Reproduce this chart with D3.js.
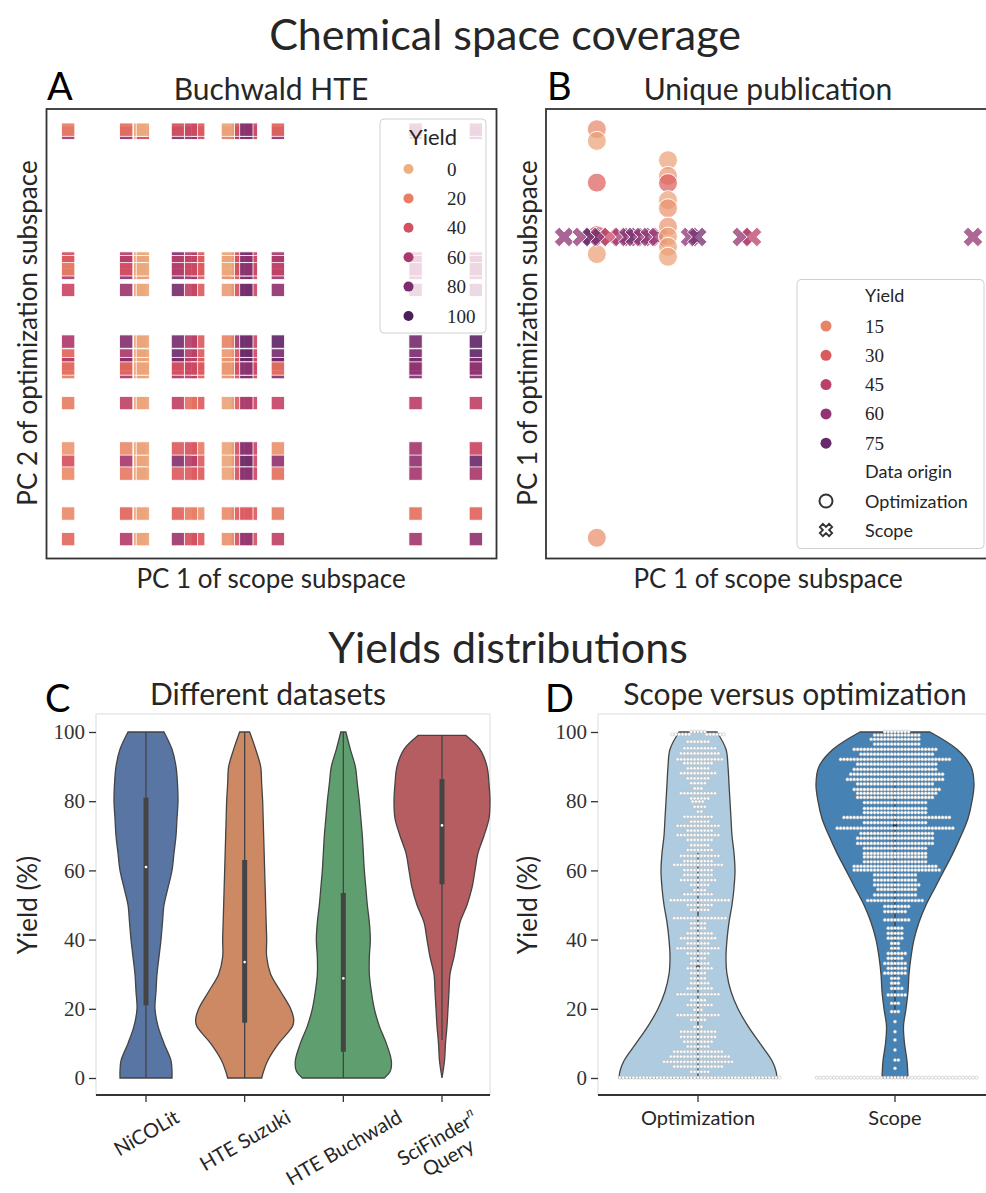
<!DOCTYPE html>
<html>
<head>
<meta charset="utf-8">
<script src="https://cdn.jsdelivr.net/npm/d3@7"></script>
<style>
  body { margin: 0; background: #fff; }
  text { font-family: Lato, "Open Sans", sans-serif; fill: #262626; }
  .num { font-family: "Liberation Serif", serif; }
</style>
</head>
<body>
<svg id="fig" width="986" height="1193"></svg>
<script>
// ---------- Panel A: Buchwald HTE (PC positions are arbitrary 0-100 units) ----------
var aScopePC = [4.7, 20.7, 21.3, 17.6, 33.6, 29.1, 32.0, 42.4, 45.3, 40.2, 44.3, 51.3, 81.9, 95.3];
var aOptPC = [94.7, 95.4, 63.5, 66.7, 65.9, 64.3, 59.7, 41.4, 45.1, 43.2, 42.2, 48.2, 34.5, 21.6, 24.4, 18.8, 9.9, 4.2];
var aYield = [
    [60, 5, 40, 70, 45, 75, 70, 65, 45, 20, 80, 70, 65, 70],
    [20, 5, 3, 25, 35, 40, 45, 40, 45, 5, 75, 30, 60, 60],
    [55, 10, 8, 70, 35, 75, 65, 40, 45, 15, 80, 65, 65, 65],
    [40, 5, 3, 55, 35, 75, 55, 40, 45, 5, 80, 60, 60, 60],
    [35, 5, 5, 55, 35, 55, 50, 40, 45, 5, 75, 60, 60, 60],
    [20, 5, 3, 40, 35, 55, 45, 40, 45, 3, 75, 50, 60, 60],
    [45, 5, 3, 65, 35, 80, 50, 40, 45, 8, 85, 70, 65, 70],
    [20, 5, 5, 60, 35, 60, 55, 40, 45, 12, 80, 75, 75, 75],
    [30, 5, 5, 60, 35, 85, 55, 40, 45, 10, 90, 80, 80, 90],
    [55, 5, 5, 75, 35, 80, 55, 40, 45, 12, 90, 85, 80, 80],
    [25, 5, 5, 28, 35, 38, 45, 40, 45, 10, 75, 25, 70, 70],
    [58, 5, 5, 75, 35, 80, 55, 65, 45, 18, 85, 90, 80, 90],
    [20, 5, 5, 50, 35, 50, 25, 35, 45, 5, 60, 48, 52, 50],
    [40, 5, 5, 60, 35, 75, 55, 40, 45, 5, 85, 70, 70, 85],
    [10, 5, 5, 15, 20, 35, 38, 40, 45, 5, 75, 12, 62, 45],
    [15, 5, 5, 22, 35, 35, 35, 40, 45, 5, 75, 25, 62, 60],
    [15, 5, 5, 30, 12, 30, 20, 35, 35, 15, 35, 20, 25, 30],
    [28, 5, 5, 55, 35, 65, 40, 40, 40, 12, 70, 50, 62, 70]
];
var aLegendTicks = [0, 20, 40, 60, 80, 100];

// ---------- Panel B: unique publication ----------
var bOptPC1 = [11.5, 11.5, 11.5, 11.5, 11.5, 11.5, 27.6, 27.6, 27.6, 27.6, 27.6, 27.6, 27.6, 27.6, 27.6];
var bOptPC2 = [71.9, 95.5, 92.9, 83.6, 67.7, 4.5, 88.6, 85.1, 83.5, 79.7, 77.9, 73.8, 71.6, 69.3, 67.1];
var bOptYield = [30, 14, 5, 28, 6, 12, 5, 8, 28, 5, 10, 9, 5, 6, 5];
var bScopePC1 = [4.1, 8.1, 10.4, 12.2, 14.5, 17.0, 18.6, 20.1, 21.9, 23.5, 25.3, 32.6, 34.2, 44.3, 46.6, 96.6];
var bScopePC2 = [71.5, 71.5, 71.5, 71.5, 71.5, 71.5, 71.5, 71.5, 71.5, 71.5, 71.5, 71.5, 71.5, 71.5, 71.5, 71.5];
var bScopeYield = [62, 60, 78, 65, 40, 55, 65, 70, 60, 62, 55, 62, 70, 60, 45, 60];
var bLegendTicks = [15, 30, 45, 60, 75];

// ---------- Panel C: yield distributions per dataset ([yield, density]) ----------
var cDatasets = ['NiCOLit', 'HTE Suzuki', 'HTE Buchwald', 'SciFinder'];
var cColors = ['#5875a4', '#cc8963', '#5f9e6e', '#b55d60'];
var densNicolit = [[0, 26], [2, 26], [5, 25], [10, 18], [15, 12], [20, 9], [25, 10], [30, 11], [35, 13], [40, 15], [45, 16.5], [50, 18], [55, 22], [60, 26], [65, 28], [70, 30], [75, 31], [80, 32], [85, 31.5], [90, 30], [95, 26], [100, 18]];
var densSuzuki = [[0, 17], [2, 19], [5, 23], [10, 34], [15, 48], [17, 49], [20, 46], [25, 36], [30, 26], [35, 22], [40, 22], [45, 21.5], [50, 21], [55, 20.5], [60, 20], [65, 19.5], [70, 19], [75, 18.5], [80, 18], [85, 17], [90, 16], [95, 11], [100, 5]];
var densBuchwald = [[0, 41], [2, 47], [5, 48], [10, 43], [15, 36], [20, 31], [25, 28], [30, 26], [35, 26], [40, 27], [45, 26], [50, 24], [55, 22.5], [60, 21], [65, 20], [70, 19], [75, 17.5], [80, 16], [85, 14], [90, 12], [95, 7], [100, 2.5]];
var densSciFinder = [[0, 0], [5, 2.5], [10, 3.5], [15, 5], [20, 6], [25, 7], [30, 8], [35, 12], [40, 15], [45, 18], [50, 25], [55, 30], [60, 33], [65, 36], [70, 42], [75, 47], [80, 48], [85, 47], [90, 45], [95, 38], [99, 24]];
var cLow = [0, 0, 0, 11];
var cQ1 = [21, 16, 7.6, 56];
var cMedian = [61, 33.5, 28.8, 73];
var cQ3 = [81, 63, 53.5, 86.4];
var cHigh = [100, 100, 100, 99];

// ---------- Panel D: scope vs optimization ----------
var dGroups = ['Optimization', 'Scope'];
var dColors = ['#afcbdf', '#4682b4'];
var densOpt = [[0, 79], [2, 78], [5, 74], [10, 62], [15, 50], [20, 40], [25, 33], [30, 29], [35, 28], [40, 29], [45, 31], [50, 34], [55, 36], [60, 37], [65, 36], [70, 34], [75, 33], [80, 32], [85, 31], [90, 30], [95, 28], [100, 19]];
var densScope = [[0, 13], [5, 12], [10, 9.5], [15, 8.5], [20, 11], [25, 13], [30, 14], [35, 16], [40, 19], [45, 24], [50, 31], [55, 40], [60, 49], [65, 58], [70, 66], [75, 73], [80, 77], [85, 79], [90, 76], [95, 62], [100, 35]];
var dLow = [0, 19];
var dMedian = [32, 73];
var dHigh = [65, 87];
// swarm rows: [yield, number of reactions]
var swarmOpt = [[100.1, 5], [99.3, 12], [97.2, 7], [95.3, 10], [93.8, 12], [92.1, 14], [91.0, 9], [89.5, 7], [88.1, 11], [86.6, 7], [85.2, 5], [83.7, 3], [82.3, 11], [80.8, 6], [79.9, 4], [78.4, 4], [77.0, 2], [75.5, 9], [74.1, 6], [72.9, 13], [71.5, 8], [70.2, 13], [68.8, 8], [67.3, 6], [65.9, 8], [64.2, 12], [62.7, 9], [61.6, 15], [60.1, 9], [58.7, 9], [57.2, 11], [55.8, 6], [54.3, 4], [53.1, 9], [51.4, 18], [50.0, 8], [48.6, 6], [46.2, 16], [44.7, 5], [43.3, 5], [41.8, 8], [40.4, 11], [38.9, 7], [37.5, 13], [36.0, 7], [34.6, 5], [33.1, 6], [31.7, 8], [30.3, 5], [28.8, 5], [27.4, 6], [25.9, 8], [24.2, 13], [22.5, 5], [21.1, 8], [19.7, 3], [18.2, 13], [16.8, 5], [14.8, 3], [13.4, 11], [11.9, 11], [10.5, 9], [9.1, 7], [7.6, 15], [6.2, 18], [4.7, 21], [3.3, 15], [1.8, 6], [0.1, 48]];
var swarmScope = [[100.1, 8], [99.1, 14], [97.9, 15], [96.5, 14], [95.0, 25], [93.6, 22], [92.1, 33], [90.7, 24], [89.2, 25], [87.8, 28], [86.3, 29], [85.0, 23], [83.4, 26], [82.3, 24], [81.1, 23], [79.6, 19], [77.9, 19], [76.7, 19], [75.3, 32], [73.8, 19], [72.2, 35], [70.7, 22], [69.3, 23], [67.8, 23], [66.4, 19], [64.9, 19], [63.9, 19], [62.5, 19], [61.2, 25], [60.1, 26], [58.7, 13], [57.2, 13], [55.8, 14], [54.5, 12], [52.9, 13], [51.3, 17], [49.6, 8], [48.1, 7], [45.7, 8], [43.3, 5], [41.8, 5], [40.4, 5], [38.9, 3], [37.5, 3], [36.0, 6], [34.6, 5], [33.1, 7], [31.7, 6], [30.3, 7], [28.8, 3], [27.4, 3], [25.9, 4], [24.0, 6], [21.6, 3], [19.2, 3], [16.3, 1], [13.4, 1], [11.0, 1], [8.1, 1], [5.2, 2], [2.8, 1], [0.1, 48]];
var yieldTicks = [0, 20, 40, 60, 80, 100];

var svg = d3.select('#fig');

var flare = d3.piecewise(d3.interpolateRgb, ['#edb081', '#e98d6b', '#e3685c', '#d14a61', '#b13c6c', '#8f3371', '#6c2b6d', '#4a1d5b']);
var colorA = d3.scaleSequential(flare).domain([0, 100]);
var colorB = d3.scaleSequential(flare).domain([0, 85]);

/**
 * Add a text element.
 */
function label(x, y, s, size, anchor, cls) {
    return svg.append('text')
        .attr('x', x).attr('y', y)
        .attr('font-size', size)
        .attr('text-anchor', anchor || 'start')
        .attr('class', cls || null)
        .text(s);
}

function vlabel(x, y, s, size) {
    return svg.append('text')
        .attr('transform', 'translate(' + x + ',' + y + ') rotate(-90)')
        .attr('font-size', size)
        .attr('text-anchor', 'middle')
        .text(s);
}

// Figure titles
label(505, 50, 'Chemical space coverage', 43, 'middle');
label(508, 663, 'Yields distributions', 43, 'middle');

// ---------- Panel A ----------
var xA = d3.scaleLinear().domain([0, 100]).range([47, 497]);
var yA = d3.scaleLinear().domain([0, 100]).range([558, 109]);
var gA = svg.append('g');
var side = 13.3;
aOptPC.forEach(function(pc2, r) {
    aScopePC.forEach(function(pc1, c) {
        gA.append('rect')
            .attr('x', xA(pc1) - side / 2).attr('y', yA(pc2) - side / 2)
            .attr('width', side).attr('height', side)
            .attr('fill', colorA(aYield[r][c]))
            .attr('fill-opacity', 0.92)
            .attr('stroke', '#fff').attr('stroke-width', 0.8);
    });
});
svg.append('rect').attr('x', 46.5).attr('y', 109).attr('width', 450).attr('height', 449.5)
    .attr('fill', 'none').attr('stroke', '#333').attr('stroke-width', 1.8);

// legend A
svg.append('rect').attr('x', 380).attr('y', 119).attr('width', 106).attr('height', 214).attr('rx', 4)
    .attr('fill', '#fff').attr('fill-opacity', 0.8).attr('stroke', '#d0d0d0').attr('stroke-width', 1);
label(433, 145, 'Yield', 22, 'middle');
aLegendTicks.forEach(function(t, i) {
    var cy = 169 + i * 29.4;
    svg.append('circle').attr('cx', 408.5).attr('cy', cy).attr('r', 5).attr('fill', colorA(t));
    label(447, cy + 6.5, t, 19, 'start', 'num');
});

label(47, 100, 'A', 38).style('fill', '#000');
label(271, 100, 'Buchwald HTE', 30, 'middle');
label(271, 588, 'PC 1 of scope subspace', 26, 'middle');
vlabel(37, 333, 'PC 2 of optimization subspace', 26);

// ---------- Panel B ----------
var xB = d3.scaleLinear().domain([0, 100]).range([546, 988]);
var yB = d3.scaleLinear().domain([0, 100]).range([558, 109]);
var gB = svg.append('g');
var xSym = d3.symbol(d3.symbolCross, 240);

function drawOpt(filter) {
    bOptPC1.forEach(function(pc1, i) {
        if (!filter(pc1)) return;
        gB.append('circle').attr('cx', xB(pc1)).attr('cy', yB(bOptPC2[i])).attr('r', 9.5)
            .attr('fill', colorB(bOptYield[i])).attr('fill-opacity', 0.72)
            .attr('stroke', '#fff').attr('stroke-width', 1);
    });
}
drawOpt(function(p) { return p < 20; });
bScopePC1.forEach(function(pc1, i) {
    gB.append('path').attr('d', xSym())
        .attr('transform', 'translate(' + xB(pc1) + ',' + yB(bScopePC2[i]) + ') rotate(45)')
        .attr('fill', colorB(bScopeYield[i])).attr('fill-opacity', 0.75)
        .attr('stroke', '#fff').attr('stroke-width', 0.8);
});
drawOpt(function(p) { return p >= 20; });

svg.append('rect').attr('x', 546).attr('y', 109).attr('width', 442).attr('height', 449.5)
    .attr('fill', 'none').attr('stroke', '#333').attr('stroke-width', 1.8);

// legend B
svg.append('rect').attr('x', 797).attr('y', 279.5).attr('width', 187).attr('height', 269).attr('rx', 4)
    .attr('fill', '#fff').attr('fill-opacity', 0.8).attr('stroke', '#d0d0d0').attr('stroke-width', 1);
label(865, 302, 'Yield', 18);
bLegendTicks.forEach(function(t, i) {
    var cy = 326 + i * 29.3;
    svg.append('circle').attr('cx', 826).attr('cy', cy).attr('r', 5.5).attr('fill', colorB(t));
    label(865, cy + 6.5, t, 19, 'start', 'num');
});
label(865, 478, 'Data origin', 18);
svg.append('circle').attr('cx', 826).attr('cy', 501).attr('r', 6.5)
    .attr('fill', 'none').attr('stroke', '#333').attr('stroke-width', 2);
label(865, 507.5, 'Optimization', 18);
svg.append('path').attr('d', d3.symbol(d3.symbolCross, 95)())
    .attr('transform', 'translate(826,530) rotate(45)')
    .attr('fill', 'none').attr('stroke', '#333').attr('stroke-width', 1.8);
label(865, 536.5, 'Scope', 18);

label(547, 100, 'B', 38).style('fill', '#000');
label(768, 100, 'Unique publication', 30, 'middle');
label(768, 588, 'PC 1 of scope subspace', 26, 'middle');
vlabel(537, 333, 'PC 1 of optimization subspace', 26);

// ---------- shared helpers for violins ----------
var yV = d3.scaleLinear().domain([0, 100]).range([1078, 732]);

function violin(g, pts, cx, fill) {
    var area = d3.area().curve(d3.curveCatmullRom)
        .y(function(d) { return yV(d[0]); })
        .x0(function(d) { return cx - d[1]; })
        .x1(function(d) { return cx + d[1]; });
    g.append('path').attr('d', area(pts))
        .attr('fill', fill).attr('stroke', '#444').attr('stroke-width', 1.3);
}

function yAxis(x) {
    var ax = svg.append('g').attr('transform', 'translate(' + x + ',0)')
        .call(d3.axisLeft(yV).tickValues(yieldTicks).tickSize(7).tickPadding(4));
    ax.select('.domain').remove();
    ax.selectAll('line').attr('stroke', '#333').attr('stroke-width', 1.3);
    ax.selectAll('text').attr('class', 'num').attr('font-size', 21).style('fill', '#333');
    return ax;
}

// ---------- Panel C ----------
var xC = d3.scalePoint().domain(cDatasets).range([146, 442]);
svg.append('rect').attr('x', 96).attr('y', 714).attr('width', 394).attr('height', 381)
    .attr('fill', 'none').attr('stroke', '#e2e2e2').attr('stroke-width', 1.2);
var gC = svg.append('g');
var cDens = [densNicolit, densSuzuki, densBuchwald, densSciFinder];
cDatasets.forEach(function(name, i) {
    var cx = xC(name);
    violin(gC, cDens[i], cx, cColors[i]);
    gC.append('line').attr('x1', cx).attr('x2', cx).attr('y1', yV(cLow[i])).attr('y2', yV(cHigh[i]))
        .attr('stroke', '#444').attr('stroke-width', 1.3);
    gC.append('line').attr('x1', cx).attr('x2', cx).attr('y1', yV(cQ1[i])).attr('y2', yV(cQ3[i]))
        .attr('stroke', '#444').attr('stroke-width', 5);
    gC.append('circle').attr('cx', cx).attr('cy', yV(cMedian[i])).attr('r', 1.3).attr('fill', '#fff');
});
yAxis(96);
svg.append('line').attr('x1', 96).attr('x2', 490).attr('y1', 1095).attr('y2', 1095)
    .attr('stroke', '#333').attr('stroke-width', 1.8);
cDatasets.forEach(function(name) {
    svg.append('line').attr('x1', xC(name)).attr('x2', xC(name)).attr('y1', 1095).attr('y2', 1102)
        .attr('stroke', '#333').attr('stroke-width', 1.3);
});

// rotated category labels, centred under the ticks
var cTickLabels = [['NiCOLit'], ['HTE Suzuki'], ['HTE Buchwald'], ['SciFinder', 'Query']];
cTickLabels.forEach(function(lines, i) {
    var t = svg.append('text').attr('font-size', 20).attr('text-anchor', 'middle');
    lines.forEach(function(s, j) {
        t.append('tspan').attr('x', 0).attr('dy', j === 0 ? 0 : 22).text(s);
        if (s === 'SciFinder') {
            t.append('tspan').attr('class', 'num').attr('font-style', 'italic')
                .attr('font-size', 14).attr('dy', -9).text('n');
            t.append('tspan').attr('font-size', 1).attr('dy', 9).text(' ');
        }
    });
    var w = t.node().getBBox();
    var L = w.width, h = w.height;
    var bh = L * 0.5 + h * 0.866;
    var cy = 1104 + bh / 2;
    t.attr('transform', 'translate(' + xC(cDatasets[i]) + ',' + cy + ') rotate(-30) translate(0,' + (-(w.y + h / 2)) + ')');
});

label(45, 712, 'C', 38).style('fill', '#000');
label(268, 705, 'Different datasets', 30, 'middle');
vlabel(37, 905, 'Yield (%)', 26);

// ---------- Panel D ----------
var xD = d3.scalePoint().domain(dGroups).range([698, 895]);
svg.append('rect').attr('x', 598).attr('y', 714).attr('width', 389).attr('height', 381)
    .attr('fill', 'none').attr('stroke', '#e2e2e2').attr('stroke-width', 1.2);
var gD = svg.append('g');
var dDens = [densOpt, densScope];
var dSwarm = [swarmOpt, swarmScope];
var dotD = 3.4;

/**
 * Greedy beeswarm: place each point as close to the centre as possible.
 */
function beeswarm(ys, d) {
    var placed = [];
    return ys.map(function(y) {
        var near = placed.filter(function(p) { return Math.abs(p.y - y) < d; });
        var cands = [0];
        near.forEach(function(p) {
            var dx = Math.sqrt(d * d - (p.y - y) * (p.y - y));
            cands.push(p.x + dx, p.x - dx);
        });
        cands.sort(function(a, b) { return Math.abs(a) - Math.abs(b) || b - a; });
        var x = cands.find(function(c) {
            return near.every(function(p) { return (p.x - c) * (p.x - c) + (p.y - y) * (p.y - y) >= d * d - 1e-6; });
        });
        var pt = {x: x, y: y};
        placed.push(pt);
        return pt;
    });
}

dGroups.forEach(function(name, i) {
    var cx = xD(name);
    violin(gD, dDens[i], cx, dColors[i]);
    gD.append('line').attr('x1', cx).attr('x2', cx).attr('y1', yV(dLow[i])).attr('y2', yV(dHigh[i]))
        .attr('stroke', '#333').attr('stroke-width', 1.2);
    gD.append('circle').attr('cx', cx).attr('cy', yV(dMedian[i])).attr('r', 2).attr('fill', '#333');
    var ys = [];
    dSwarm[i].forEach(function(row) {
        for (var k = 0; k < row[1]; k++) ys.push(yV(row[0]));
    });
    beeswarm(ys, dotD).forEach(function(p) {
        gD.append('circle').attr('cx', cx + p.x).attr('cy', p.y).attr('r', 1.6)
            .attr('fill', '#fff').attr('stroke', '#b5b5b5').attr('stroke-width', 0.5);
    });
});
yAxis(598);
svg.append('line').attr('x1', 598).attr('x2', 987).attr('y1', 1095).attr('y2', 1095)
    .attr('stroke', '#333').attr('stroke-width', 1.8);
dGroups.forEach(function(name) {
    svg.append('line').attr('x1', xD(name)).attr('x2', xD(name)).attr('y1', 1095).attr('y2', 1102)
        .attr('stroke', '#333').attr('stroke-width', 1.3);
    label(xD(name), 1125, name, 20, 'middle');
});

label(545, 712, 'D', 38).style('fill', '#000');
label(795, 705, 'Scope versus optimization', 30, 'middle');
vlabel(537, 905, 'Yield (%)', 26);
</script>
</body>
</html>
